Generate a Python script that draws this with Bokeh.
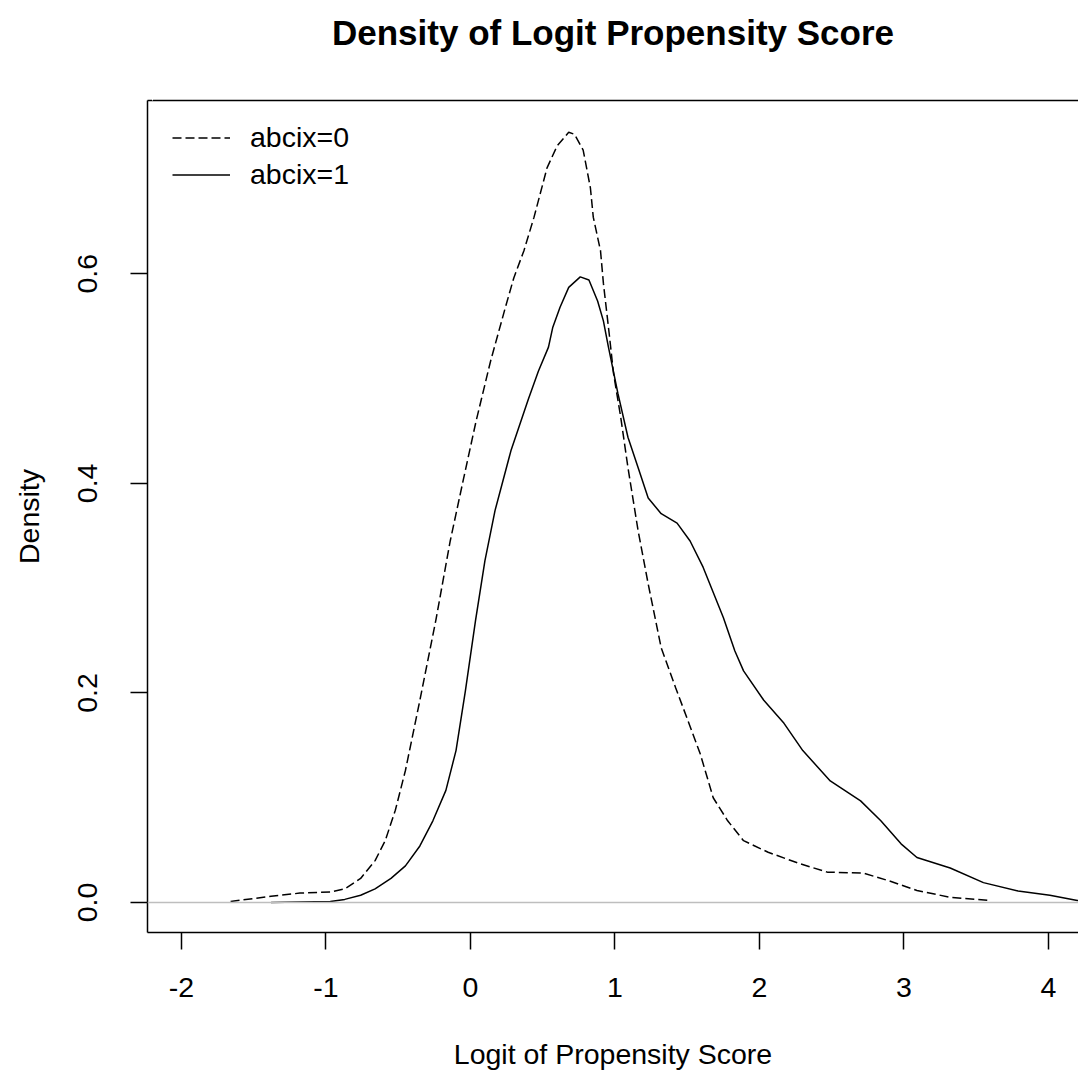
from bokeh.plotting import figure
from bokeh.models import Range1d, LinearAxis, FixedTicker, Span, Legend, LegendItem
from bokeh.embed import file_html
from bokeh.resources import INLINE

# ---- data ----
title_text = "Density of Logit Propensity Score"
x_label = "Logit of Propensity Score"
y_label = "Density"
series_labels = ["abcix=0", "abcix=1"]

x_ticks = [-2, -1, 0, 1, 2, 3, 4]
x_tick_labels = ["-2", "-1", "0", "1", "2", "3", "4"]
y_ticks = [0.0, 0.2, 0.4, 0.6]
y_tick_labels = ["0.0", "0.2", "0.4", "0.6"]

dashed_x = [-1.66, -1.38, -1.18, -0.97, -0.87, -0.76, -0.66, -0.59, -0.52, -0.45,
            -0.35, -0.24, -0.14, -0.05, 0.04, 0.14, 0.24, 0.30, 0.37, 0.44,
            0.53, 0.60, 0.68, 0.72, 0.78, 0.83, 0.85, 0.90, 0.92, 0.96,
            0.99, 1.04, 1.09, 1.16, 1.23, 1.32, 1.42, 1.52, 1.59, 1.68,
            1.78, 1.89, 2.06, 2.28, 2.47, 2.72, 2.89, 3.09, 3.32, 3.60]
dashed_y = [0.001, 0.006, 0.009, 0.010, 0.013, 0.023, 0.040, 0.059, 0.088, 0.126,
            0.193, 0.269, 0.345, 0.403, 0.460, 0.517, 0.567, 0.596, 0.622, 0.654,
            0.701, 0.722, 0.735, 0.733, 0.718, 0.682, 0.654, 0.622, 0.591, 0.543,
            0.505, 0.463, 0.415, 0.355, 0.304, 0.243, 0.205, 0.168, 0.142, 0.100,
            0.078, 0.059, 0.048, 0.037, 0.029, 0.028, 0.021, 0.0115, 0.005, 0.002]

solid_x = [-1.38, -0.97, -0.87, -0.76, -0.66, -0.55, -0.45, -0.35, -0.26, -0.17,
           -0.10, -0.035, 0.035, 0.10, 0.17, 0.28, 0.40, 0.47, 0.54, 0.57,
           0.62, 0.68, 0.76, 0.82, 0.88, 0.92, 0.955, 0.97, 1.02, 1.09,
           1.16, 1.23, 1.32, 1.43, 1.52, 1.61, 1.75, 1.83, 1.89, 2.03,
           2.17, 2.30, 2.49, 2.70, 2.84, 2.98, 3.09, 3.32, 3.55, 3.79,
           4.01, 4.20, 4.40]
solid_y = [0.000, 0.001, 0.003, 0.007, 0.013, 0.023, 0.035, 0.054, 0.078, 0.107,
           0.145, 0.202, 0.269, 0.326, 0.374, 0.431, 0.480, 0.507, 0.530, 0.549,
           0.568, 0.587, 0.597, 0.594, 0.574, 0.555, 0.530, 0.520, 0.486, 0.444,
           0.415, 0.386, 0.371, 0.362, 0.345, 0.320, 0.272, 0.240, 0.221, 0.193,
           0.171, 0.145, 0.116, 0.097, 0.078, 0.056, 0.043, 0.033, 0.019, 0.011,
           0.007, 0.002, 0.001]

FONT = "Liberation Sans"
FS = "28.5px"

p = figure(width=1078, height=1078, output_backend="svg", toolbar_location=None,
           x_range=Range1d(-2.235, 4.208), y_range=Range1d(-0.0286, 0.7653),
           min_border_left=147, min_border_right=0, min_border_top=100,
           min_border_bottom=146, title=title_text)

p.background_fill_color = "white"
p.border_fill_color = "white"
p.outline_line_color = None
p.xgrid.visible = False
p.ygrid.visible = False

p.title.text_font = FONT
p.title.text_font_size = "35px"
p.title.text_font_style = "bold"
p.title.text_color = "black"
p.title.align = "center"
p.title.standoff = 10

for ax in (p.xaxis[0], p.yaxis[0]):
    ax.axis_line_color = "black"
    ax.axis_line_width = 1.5
    ax.major_tick_line_color = "black"
    ax.major_tick_line_width = 1.5
    ax.major_tick_out = 17
    ax.major_tick_in = 0
    ax.minor_tick_line_color = None
    ax.major_label_text_font = FONT
    ax.major_label_text_font_size = FS
    ax.major_label_text_color = "black"
    ax.axis_label_text_font = FONT
    ax.axis_label_text_font_size = FS
    ax.axis_label_text_font_style = "normal"
    ax.axis_label_text_color = "black"

p.xaxis[0].ticker = FixedTicker(ticks=x_ticks)
p.xaxis[0].major_label_overrides = {t: l for t, l in zip(x_ticks, x_tick_labels)}
p.xaxis[0].axis_label = x_label
p.xaxis[0].major_label_standoff = 28
p.xaxis[0].axis_label_standoff = 38

p.yaxis[0].ticker = FixedTicker(ticks=y_ticks)
p.yaxis[0].major_label_overrides = {t: l for t, l in zip(y_ticks, y_tick_labels)}
p.yaxis[0].major_label_orientation = "vertical"
p.yaxis[0].axis_label = y_label
p.yaxis[0].major_label_standoff = 33
p.yaxis[0].axis_label_standoff = 31

# top border of the box; one white (invisible) tick, far from the title, reserves
# the room between the title and the box
spacer_tick = -2.2
top_axis = LinearAxis(ticker=FixedTicker(ticks=[spacer_tick]), axis_line_color="black",
                      axis_line_width=1.5, major_tick_line_color="white",
                      major_tick_line_width=1, major_tick_out=44, major_tick_in=0,
                      major_label_standoff=0, major_label_overrides={spacer_tick: ""},
                      minor_tick_line_color=None, major_label_text_font_size="1px")
p.add_layout(top_axis, "above")

p.add_layout(Span(location=0, dimension="width", line_color="#bebebe", line_width=1.5))

r0 = p.line(dashed_x, dashed_y, line_color="black", line_width=1.5, line_dash="9 4")
r1 = p.line(solid_x, solid_y, line_color="black", line_width=1.5)

legend = Legend(items=[LegendItem(label=series_labels[0], renderers=[r0]),
                       LegendItem(label=series_labels[1], renderers=[r1])],
                location=(25, 739.5), padding=0, margin=0, border_line_color=None,
                background_fill_alpha=0, glyph_width=58, glyph_height=37,
                label_height=37, spacing=0, label_standoff=20,
                label_text_font=FONT, label_text_font_size=FS, label_text_color="black")
p.add_layout(legend)

open("out.html", "w").write(file_html(p, INLINE))
